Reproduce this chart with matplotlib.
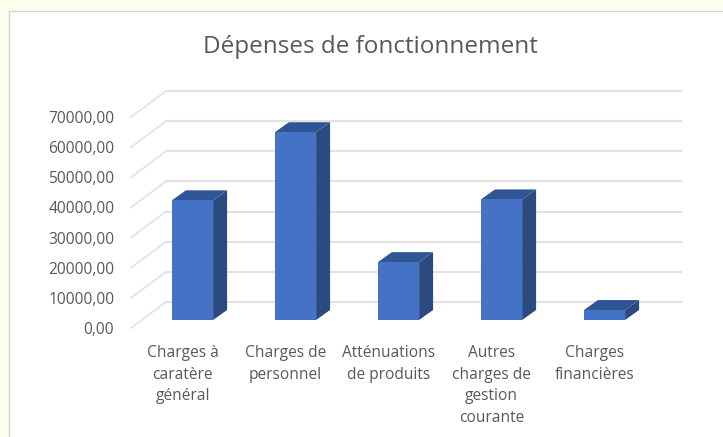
import matplotlib
matplotlib.use("Agg")
import matplotlib.pyplot as plt
from matplotlib.patches import Polygon, Rectangle
from matplotlib.transforms import Affine2D, IdentityTransform

categories = ["Charges à\ncaratère\ngénéral", "Charges de\npersonnel", "Atténuations\nde produits",
              "Autres\ncharges de\ngestion\ncourante", "Charges\nfinancières"]
values = [39700, 62300, 19200, 40000, 3300]
yticks = [0, 10000, 20000, 30000, 40000, 50000, 60000, 70000]
ytick_labels = ["0,00", "10000,00", "20000,00", "30000,00", "40000,00", "50000,00", "60000,00", "70000,00"]
title = "Dépenses de fonctionnement"

W, H = 723, 437
plt.rcParams["font.family"] = ["Open Sans", "DejaVu Sans"]
fig = plt.figure(figsize=(W / 100, H / 100), dpi=100, facecolor="#FBFFEC")

# white chart panel
panel = Rectangle((9 / W, -0.01), (W - 9) / W + 0.01, (H - 11) / H + 0.01, transform=fig.transFigure,
                  facecolor="white", edgecolor="#D4D4D4", linewidth=1, zorder=-1)
fig.add_artist(panel)

# front plane of the 3D box, in pixels
x0, x1, y_bottom, y_top = 131, 646, 328, 117
ax = fig.add_axes([x0 / W, (H - y_bottom) / H, (x1 - x0) / W, (y_bottom - y_top) / H])
ax.set_xlim(0, 5)
ax.set_ylim(0, 70000)
ax.patch.set_alpha(0)
for s in ax.spines.values():
    s.set_visible(False)

GRID = "#E2E2E2"
PX = IdentityTransform()
def shift(dx, dy):
    return ax.transData + Affine2D().translate(dx, dy)

# floor/wall depth and bar placement (pixels)
DX, DY = 35, 26
back = shift(DX, DY)
for v in yticks:
    ax.plot([0, 5], [v, v], transform=back, color=GRID, lw=1.5, clip_on=False, zorder=1)
    p0 = ax.transData.transform((0, v))
    p1 = p0 + (DX, DY)
    ax.plot([p0[0], p1[0]], [p0[1], p1[1]], transform=PX, color=GRID, lw=1.2, clip_on=False, zorder=1)

width = 0.4
BX, BY = 10, 8      # bar front offset from front plane
dx, dy = 14, 10     # bar depth
for i, v in enumerate(values):
    l, r = i + 0.5 - width / 2, i + 0.5 + width / 2
    a, b, c, d = shift(BX, BY).transform([(l, 0), (r, 0), (r, v), (l, v)])
    off = (dx, dy)
    ax.add_patch(Polygon([b, b + off, c + off, c], closed=True, transform=PX,
                         facecolor="#2A4A80", edgecolor="none", clip_on=False, zorder=3))
    ax.add_patch(Polygon([d, c, c + off, d + off], closed=True, transform=PX,
                         facecolor="#2F5597", edgecolor="none", clip_on=False, zorder=3))
    ax.add_patch(Polygon([a, b, c, d], closed=True, transform=PX,
                         facecolor="#4472C4", edgecolor="none", clip_on=False, zorder=4))

ax.set_yticks(yticks)
ax.set_yticklabels(ytick_labels, fontsize=11.2, color="#595959")
ax.set_xticks([i + 0.5 for i in range(len(categories))])
ax.set_xticklabels(categories, fontsize=11.2, color="#595959", linespacing=1.46)
ax.tick_params(axis="y", length=0, pad=12)
ax.tick_params(axis="x", length=0, pad=12.5)

fig.text(370 / W, (H - 47) / H, title, ha="center", va="center", fontsize=17.5, color="#595959")
fig.savefig("out.png", dpi=100, facecolor=fig.get_facecolor())
